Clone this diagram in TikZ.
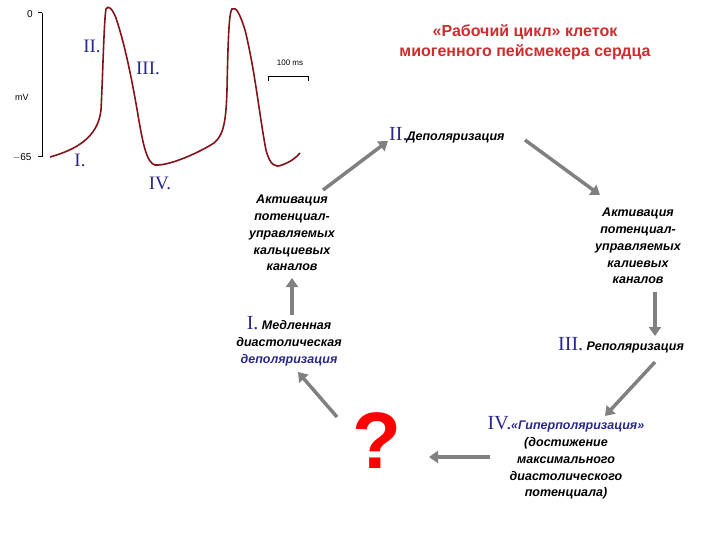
\documentclass[tikz,border=0pt]{standalone}
\usepackage{fontspec}
\setmainfont{Liberation Sans}
\newfontfamily\rmnum{Liberation Serif}
\usetikzlibrary{arrows.meta}
\definecolor{numblue}{RGB}{40,40,140}
\definecolor{curvered}{RGB}{130,20,25}
\definecolor{titlered}{RGB}{205,45,45}
\definecolor{arrgray}{RGB}{128,128,128}
\tikzset{
 num/.style={text=numblue,font=\rmnum\fontsize{19}{19}\selectfont},
 txt/.style={font=\bfseries\itshape\fontsize{12.5}{16.8}\selectfont,align=center,inner sep=1pt},
 flow/.style={draw=arrgray,line width=3.5pt,-{Triangle[length=9pt,width=12pt]}},
}
\newcommand{\rn}[1]{{\mdseries\upshape\rmnum\color{numblue}\fontsize{20}{20}\selectfont #1}}
\begin{document}
\begin{tikzpicture}[x=1pt,y=-1pt]
\useasboundingbox (0,0) rectangle (720,540);
% axis
\draw[line width=1pt] (42,13) -- (42,157);
\draw[line width=1pt] (38,13) -- (42,13) (38,157) -- (42,157);
\node[font=\fontsize{10}{10}\selectfont] (z) at (30,14) {0};
\node[font=\fontsize{10}{10}\selectfont] (m) at (22,157) {$-$65};
\node[font=\fontsize{9}{9}\selectfont] (mv) at (22,97) {mV};
% curve
\draw[curvered,line width=1.6pt]
 (50,157) .. controls (75,150) and (98,138) .. (101,110)
 .. controls (103,70) and (104,20) .. (106,9)
 .. controls (108,5) and (112,8) .. (116,18)
 .. controls (125,45) and (132,80) .. (138,115)
 .. controls (143,145) and (147,163) .. (155,165)
 .. controls (170,166) and (200,152) .. (214,143)
 .. controls (224,135) and (226,120) .. (227,90)
 .. controls (228,40) and (229,12) .. (232,9)
 .. controls (236,6) and (240,14) .. (245,30)
 .. controls (255,70) and (260,120) .. (266,150)
 .. controls (270,165) and (275,168) .. (282,165)
 .. controls (290,162) and (296,158) .. (300,153);
\draw[line width=1pt] (268,81) -- (268,77) -- (308,77) -- (308,81);
\node[font=\fontsize{8}{8}\selectfont] (ms) at (290,63) {100 ms};
\node[num] (g2) at (92,46) {II.};
\node[num] (g3) at (148,68) {III.};
\node[num] (g1) at (80,160) {I.};
\node[num] (g4) at (160,183) {IV.};
% title
\node[font=\bfseries\fontsize{16}{20}\selectfont,text=titlered,align=center] (title) at (525,42) {«Рабочий цикл» клеток\\миогенного пейсмекера сердца};
% cycle
\node[txt,anchor=west] (dep) at (388,135) {\rn{II.}\hspace{-1pt}Деполяризация};
\node[txt] (actR) at (638,246) {Активация\\потенциал-\\управляемых\\калиевых\\каналов};
\node[txt,anchor=west] (rep) at (557,345) {\rn{III.} Реполяризация};
\node[txt] (hyp) at (566,458) {\rn{IV.}{\color{numblue}«Гиперполяризация»}\\(достижение\\максимального\\диастолического\\потенциала)};
\node[font=\bfseries\fontsize{80}{80}\selectfont,text=red] (q) at (377,441) {?};
\node[txt] (slow) at (289,341) {\rn{I.} Медленная\\диастолическая\\{\color{numblue}деполяризация}};
\node[txt] (actL) at (292,233) {Активация\\потенциал-\\управляемых\\кальциевых\\каналов};
% arrows
\draw[flow] (292,315) -- (292,278);
\draw[flow] (323,190) -- (388,141);
\draw[flow] (525,140) -- (600,195);
\draw[flow] (655,292) -- (655,336);
\draw[flow] (655,362) -- (605,416);
\draw[flow] (490,457) -- (429,457);
\draw[flow] (337,417) -- (298,372);
\end{tikzpicture}
\end{document}
